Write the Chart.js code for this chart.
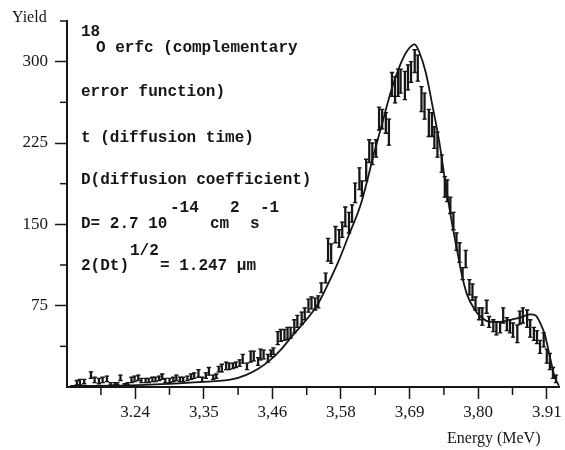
<!DOCTYPE html>
<html>
<head>
<meta charset="utf-8" />
<script src="https://cdn.jsdelivr.net/npm/chart.js@4.4.0/dist/chart.umd.min.js"></script>
<style>
  html,body{margin:0;padding:0;background:#fff;}
  #box{width:565px;height:450px;position:relative;}
</style>
</head>
<body>
<div id="box"><canvas id="yieldChart"></canvas></div>
<script>
/* ---------- Data ---------- */
const energy = [
  3.145,3.150,3.157,3.168,3.174,3.181,3.187,3.194,3.200,3.207,
  3.211,3.216,3.223,3.228,3.234,3.239,3.245,3.250,3.257,3.262,
  3.268,3.273,3.279,3.284,3.289,3.296,3.302,3.307,3.313,3.318,
  3.325,3.331,3.336,3.343,3.349,3.355,3.360,3.367,3.372,3.376,
  3.381,3.388,3.393,3.399,3.404,3.410,3.415,3.422,3.428,3.433,
  3.440,3.444,3.449,3.456,3.461,3.465,3.472,3.477,3.483,3.488,
  3.493,3.499,3.504,3.511,3.516,3.522,3.527,3.533,3.538,3.543,
  3.550,3.554,3.559,3.566,3.572,3.577,3.582,3.588,3.593,3.598,
  3.605,3.609,3.616,3.621,3.626,3.632,3.637,3.642,3.648,3.653,
  3.658,3.663,3.668,3.672,3.679,3.684,3.689,3.695,3.700,3.706,
  3.711,3.718,3.723,3.727,3.732,3.739,3.744,3.748,3.753,3.758,
  3.763,3.768,3.773,3.778,3.784,3.789,3.794,3.800,3.805,3.812,
  3.816,3.823,3.828,3.834,3.839,3.845,3.850,3.855,3.862,3.866,
  3.871,3.878,3.883,3.889,3.894,3.899,3.905,3.910,3.915,3.920,
  3.925
];
const yieldLow = [
  2,2,3,8,4,3,4,5,2,2,
  2,6,2,2,4,5,6,4,4,4,
  5,5,6,7,4,4,5,6,5,5,
  6,7,8,9,5,8,11,7,8,14,
  14,16,16,17,18,19,22,16,23,24,
  20,25,26,23,28,30,39,42,43,44,
  45,50,55,58,62,69,72,71,73,87,
  96,116,114,133,129,138,148,142,152,170,
  182,176,190,207,205,212,237,238,234,223,
  268,262,268,271,265,274,281,290,282,254,
  247,231,231,220,212,198,175,171,160,145,
  126,115,99,110,85,80,71,62,57,68,
  55,51,48,50,59,52,50,46,41,58,
  59,55,46,43,40,31,37,22,16,8,
  4
];
const yieldHigh = [
  6,7,7,14,9,8,9,10,4,4,
  4,11,3,4,9,10,11,8,8,8,
  9,9,10,12,8,8,9,11,9,9,
  10,12,13,16,9,13,18,11,12,19,
  21,23,22,22,23,25,30,22,33,33,
  27,35,34,30,34,36,51,53,53,55,
  55,62,66,69,73,81,83,82,84,96,
  105,137,132,148,145,152,166,161,168,188,
  202,190,210,228,225,228,258,256,253,247,
  290,286,293,293,291,297,300,311,306,277,
  271,256,253,240,235,214,194,191,175,161,
  142,133,110,126,99,95,83,73,73,80,
  65,62,60,60,73,64,62,59,57,70,
  73,71,62,55,52,43,50,35,31,18,
  11
];

// erfc fit curve
const fitE = [3.134,3.231,3.296,3.344,3.397,3.420,3.441,3.460,3.478,3.494,3.511,3.527,3.538,3.554,3.571,3.587,
  3.608,3.630,3.643,3.656,3.672,3.684,3.695,3.703,3.713,3.724,3.735,3.745,3.756,3.765,3.773,3.781,
  3.792,3.802,3.818,3.834,3.850,3.866,3.883,3.892,3.900,3.907,3.915,3.923,3.930];
const fitY = [1,1.5,3,4.5,7,11,17,25,35,46,57,68,77,95,116,139,
  170,218,245,272,298,311,316,308,290,259,226,188,150,123,100,84,
  72,65,60,60,62,64,67,66,58,48,28,9,1];

// axes
const xMajor = [3.24,3.3517,3.4633,3.575,3.6867,3.7983,3.91];
const xLabels = ['3.24','3,35','3,46','3,58','3,69','3,80','3.91'];
const xMinor = [3.1842,3.2958,3.4075,3.5192,3.6308,3.7425,3.8542];
const yMajor = [75,150,225,300];
const yMinor = [37.5,112.5,187.5,262.5,337.5];

/* ---------- Style ---------- */
const INK = '#161616';
const SERIF = '"Liberation Serif","Times New Roman",serif';
const MONO = '"Liberation Mono","Courier New",monospace';

/* ---------- Minor ticks + annotation text ---------- */
const extras = {
  id: 'extras',
  afterDraw(chart){
    const {ctx} = chart;
    const x = chart.scales.x, y = chart.scales.y;
    ctx.save();
    ctx.strokeStyle = INK; ctx.lineWidth = 1.5;
    xMinor.forEach(v => {
      const px = x.getPixelForValue(v);
      ctx.beginPath(); ctx.moveTo(px, y.bottom); ctx.lineTo(px, y.bottom + 8); ctx.stroke();
    });
    yMinor.forEach(v => {
      const py = y.getPixelForValue(v);
      ctx.beginPath(); ctx.moveTo(x.left, py); ctx.lineTo(x.left - 7, py); ctx.stroke();
    });

    ctx.fillStyle = INK;
    ctx.textAlign = 'left'; ctx.textBaseline = 'alphabetic';
    ctx.font = '16px ' + SERIF;
    ctx.fillText('Yield', 12, 22);
    ctx.fillText('Energy (MeV)', 447, 443);

    ctx.font = 'bold 16px ' + MONO;
    const notes = [
      ['18', 81, 36], ['O erfc (complementary', 96, 52],
      ['error function)', 81, 96],
      ['t (diffusion time)', 81, 142],
      ['D(diffusion coefficient)', 81, 184],
      ['D= 2.7 10', 81, 228], ['-14', 170, 212], ['cm', 210, 228], ['2', 230, 212],
      ['s', 250, 228], ['-1', 260, 212],
      ['2(Dt)', 81, 270], ['1/2', 130, 255], ['= 1.247 \u03bcm', 160, 270]
    ];
    notes.forEach(([t, px, py]) => ctx.fillText(t, px, py));
    ctx.restore();
  }
};

/* ---------- Chart ---------- */
const tickFont = { family: SERIF, size: 17 };

new Chart(document.getElementById('yieldChart'), {
  type: 'scatter',
  data: {
    datasets: [
      {
        type: 'line',
        data: fitE.map((e, i) => ({ x: e, y: fitY[i] })),
        borderColor: INK, borderWidth: 1.8,
        pointRadius: 0, fill: false,
        cubicInterpolationMode: 'monotone'
      },
      {
        type: 'bar',
        data: energy.map((e, i) => ({ x: e, y: [yieldLow[i], yieldHigh[i]] })),
        backgroundColor: INK, borderWidth: 0,
        barThickness: 1.6
      },
      {
        data: energy.map((e, i) => ({ x: e, y: yieldLow[i] })),
        pointStyle: 'line', pointRadius: 2.2, borderColor: INK, borderWidth: 1.3
      },
      {
        data: energy.map((e, i) => ({ x: e, y: yieldHigh[i] })),
        pointStyle: 'line', pointRadius: 2.2, borderColor: INK, borderWidth: 1.3
      }
    ]
  },
  options: {
    responsive: true,
    maintainAspectRatio: false,
    animation: false,
    events: [],
    layout: { padding: { top: 21, right: 2, left: 0, bottom: 0 } },
    plugins: { legend: { display: false }, tooltip: { enabled: false } },
    scales: {
      x: {
        type: 'linear', min: 3.129, max: 3.931, offset: false,
        afterBuildTicks: s => { s.ticks = xMajor.map(v => ({ value: v })); },
        afterFit: s => { s.height = 63; },
        ticks: {
          callback: (v, i) => xLabels[i],
          font: tickFont, color: INK, padding: 3,
          autoSkip: false, maxRotation: 0
        },
        grid: { drawOnChartArea: false, drawTicks: true, tickLength: 12, tickWidth: 1.5, tickColor: INK, offset: false },
        border: { display: true, color: INK, width: 2 }
      },
      y: {
        type: 'linear', min: 0, max: 337.5,
        afterBuildTicks: s => { s.ticks = yMajor.map(v => ({ value: v })); },
        afterFit: s => { s.width = 67; },
        ticks: { callback: v => String(v), font: tickFont, color: INK, padding: 7 },
        grid: { drawOnChartArea: false, drawTicks: true, tickLength: 12, tickWidth: 1.5, tickColor: INK },
        border: { display: true, color: INK, width: 2 }
      }
    }
  },
  plugins: [extras]
});
</script>
</body>
</html>
